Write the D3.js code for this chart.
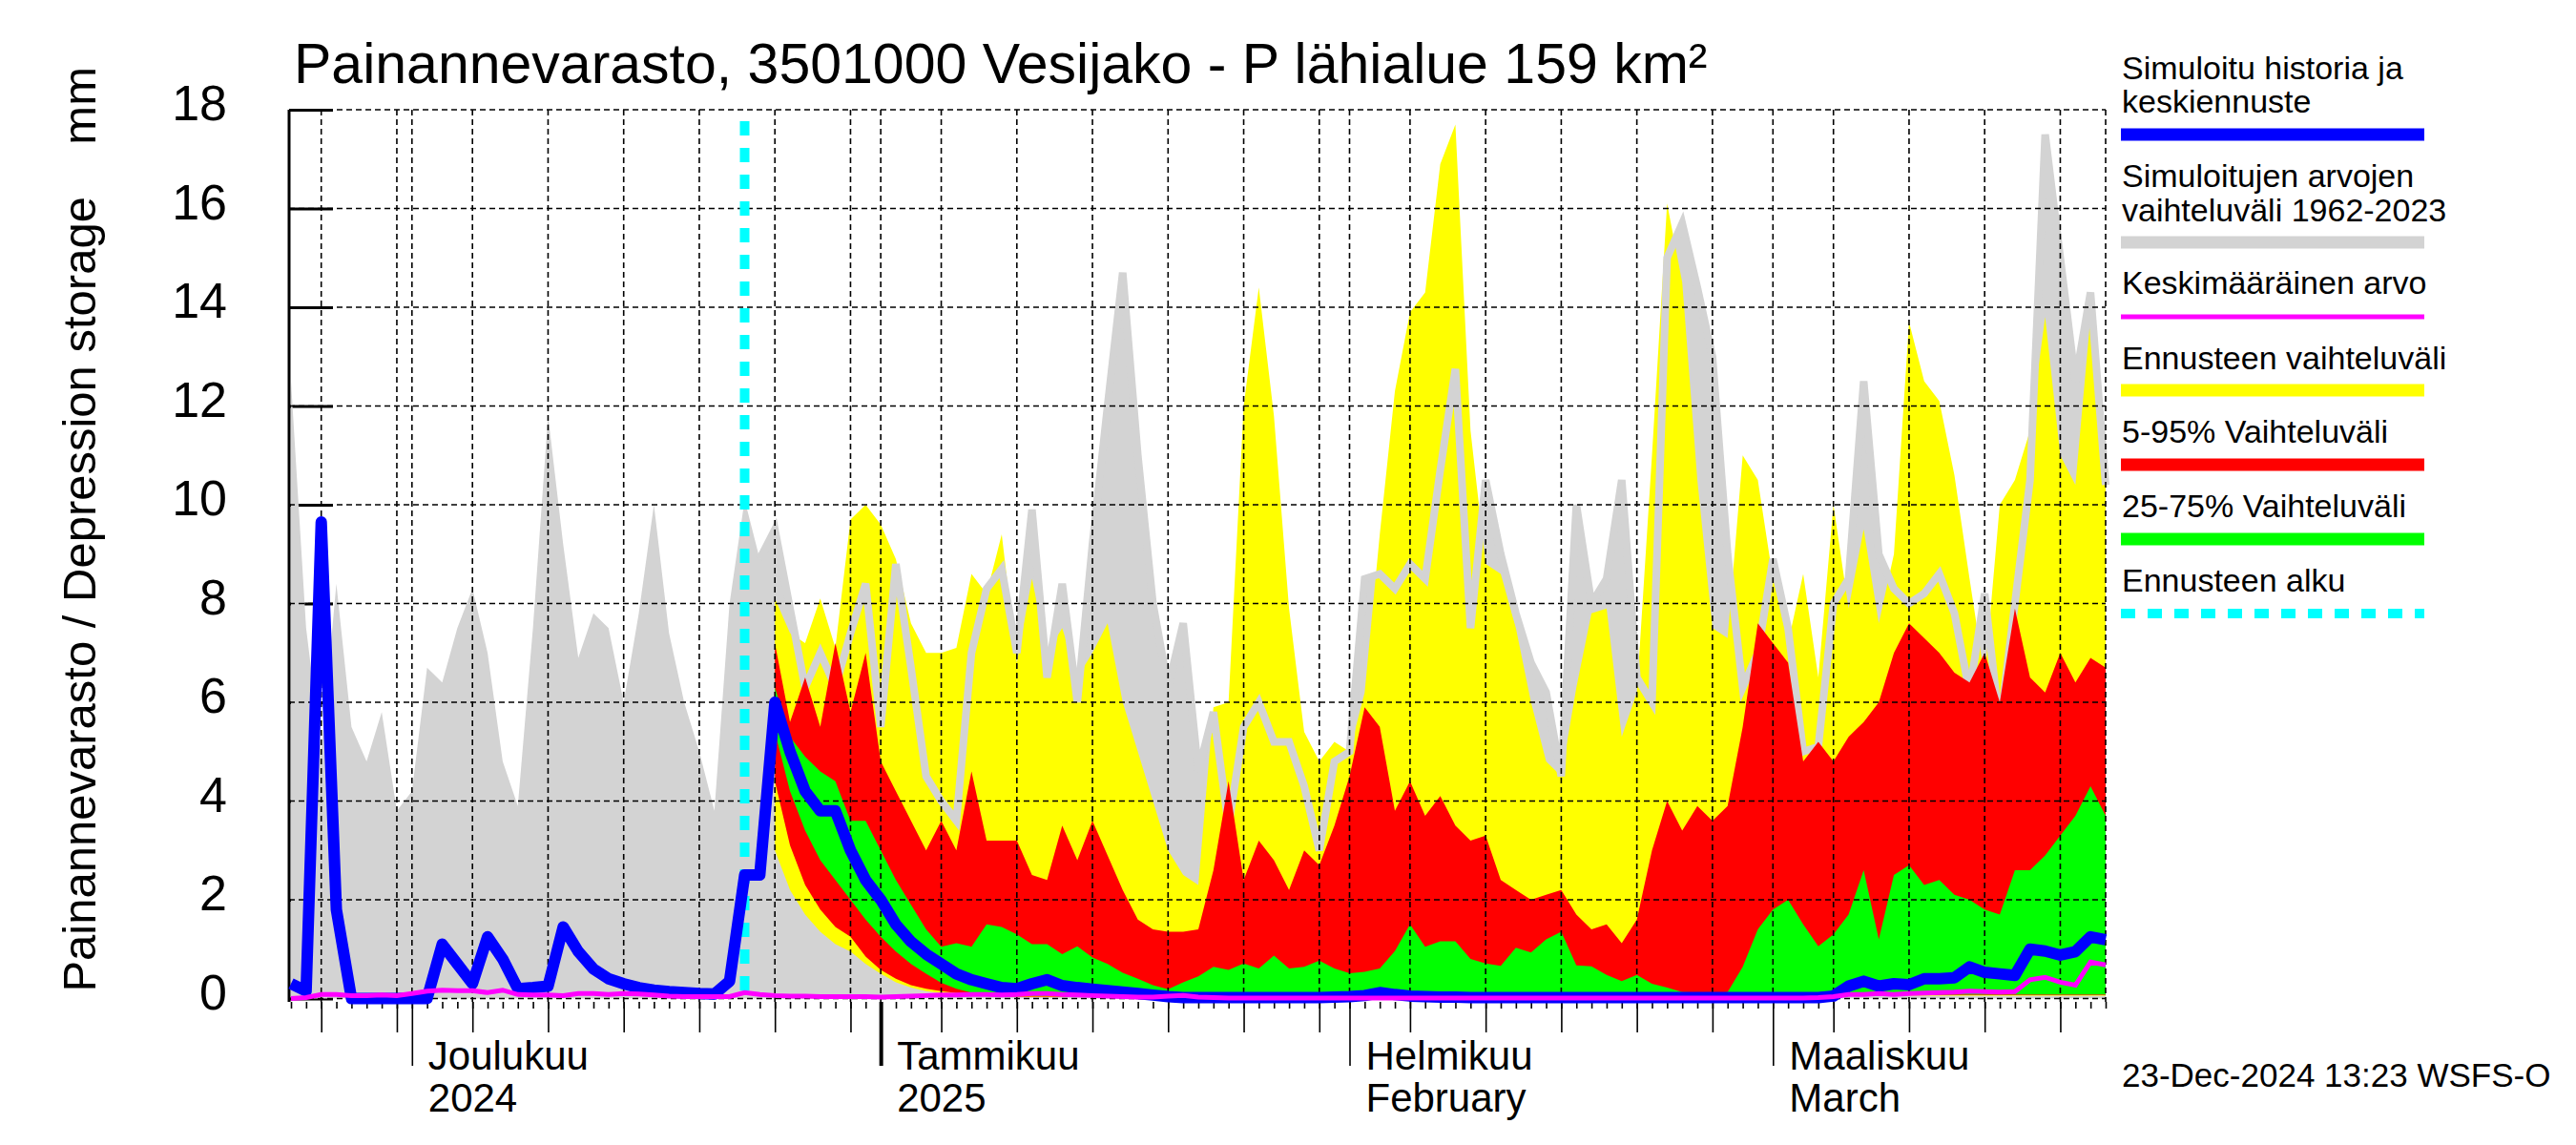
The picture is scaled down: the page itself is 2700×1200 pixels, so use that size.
<!DOCTYPE html>
<html><head><meta charset="utf-8">
<script src="https://cdn.jsdelivr.net/npm/d3@7"></script>
<style>body{margin:0;background:#fff}svg{display:block}text{font-family:"Liberation Sans",Arial,Helvetica,sans-serif;fill:#000}</style>
</head><body><svg id="c" width="2700" height="1200"></svg>
<script>
// ---------- data ----------
const startDay = Date.UTC(2024,10,23);   // first day shown
const endDay   = Date.UTC(2025,2,23);    // last day shown
const forecastStart = Date.UTC(2024,11,23);
const fcOffset = 32;                     // index of first forecast-band day

// simulated history max (grey band upper edge), daily from startDay
const histMax = [12.5,7.5,5.0,8.4,5.5,4.8,5.8,3.8,4.2,6.7,
  6.4,7.5,8.3,7.0,4.8,3.9,7.5,11.8,9.2,6.9,
  7.8,7.5,6.0,7.8,10.0,7.4,6.0,5.0,3.8,8.0,
  10.1,8.9,9.5,7.9,6.3,7.0,6.3,7.4,8.4,5.5,
  8.8,6.7,4.5,4.0,3.6,7.0,8.3,8.7,7.0,9.9,
  6.5,8.4,6.0,9.2,12.0,14.7,11.0,8.0,6.3,7.6,
  4.6,5.8,3.5,5.5,6.0,5.2,5.2,4.3,3.0,4.8,
  5.0,8.5,8.6,8.3,8.8,8.5,10.7,12.75,7.5,10.5,
  9.0,7.8,6.8,6.2,4.5,10.0,8.0,8.5,10.5,6.5,
  6.0,15.0,15.7,14.4,13.0,9.0,6.3,7.0,8.9,7.5,
  5.0,5.1,8.0,8.5,12.5,9.0,8.3,8.0,8.2,8.6,
  7.8,6.2,8.2,5.5,8.0,10.5,17.5,15.0,12.5,14.3,
  10.4];

// simulated history + median forecast (blue)
const simMedian = [0.3,0.15,9.65,1.8,0.0,0.0,0.0,0.0,0.0,0.0,
  1.1,0.7,0.3,1.25,0.8,0.2,0.22,0.25,1.45,0.95,
  0.6,0.4,0.3,0.22,0.17,0.14,0.12,0.1,0.09,0.35,
  2.5,2.5,6.0,5.0,4.2,3.8,3.8,3.0,2.4,2.0,
  1.5,1.15,0.9,0.7,0.5,0.38,0.3,0.22,0.2,0.3,
  0.38,0.26,0.22,0.19,0.16,0.13,0.1,0.07,0.04,0.02,
  0.02,0.02,0.02,0.02,0.02,0.02,0.02,0.02,0.02,0.03,
  0.04,0.06,0.12,0.08,0.05,0.04,0.03,0.03,0.02,0.02,
  0.02,0.02,0.02,0.02,0.02,0.02,0.02,0.02,0.02,0.02,
  0.02,0.02,0.02,0.02,0.02,0.02,0.02,0.02,0.02,0.02,
  0.02,0.02,0.05,0.25,0.35,0.25,0.3,0.28,0.4,0.4,
  0.42,0.64,0.53,0.5,0.47,1.0,0.96,0.88,0.95,1.25,
  1.19];

// long-term mean (magenta)
const meanValue = [0.0,0.02,0.08,0.08,0.06,0.06,0.07,0.06,0.1,0.15,
  0.17,0.16,0.16,0.12,0.17,0.08,0.07,0.07,0.06,0.1,
  0.1,0.08,0.1,0.09,0.07,0.05,0.04,0.04,0.04,0.04,
  0.12,0.08,0.06,0.05,0.05,0.04,0.04,0.04,0.04,0.03,
  0.04,0.05,0.06,0.07,0.07,0.08,0.08,0.07,0.08,0.1,
  0.1,0.08,0.07,0.06,0.05,0.04,0.03,0.03,0.05,0.06,
  0.03,0.02,0.01,0.01,0.01,0.01,0.01,0.01,0.01,0.01,
  0.01,0.01,0.01,0.01,0.01,0.01,0.01,0.01,0.01,0.01,
  0.01,0.01,0.01,0.01,0.01,0.01,0.01,0.01,0.01,0.01,
  0.01,0.01,0.01,0.01,0.01,0.01,0.01,0.01,0.01,0.01,
  0.01,0.02,0.04,0.08,0.08,0.1,0.08,0.1,0.11,0.12,
  0.13,0.15,0.14,0.13,0.14,0.38,0.43,0.33,0.27,0.74,
  0.68];

// forecast bands, daily from startDay + fcOffset
const fcMax = [8.1,7.4,7.2,8.1,7.1,9.7,10.0,9.6,8.9,7.6,
  7.0,7.0,7.1,8.6,8.2,9.4,6.8,8.5,7.0,7.5,
  6.5,7.0,7.6,6.0,5.0,4.0,3.0,2.5,2.3,5.9,
  6.0,12.0,14.4,11.8,7.9,5.4,4.8,5.2,5.0,6.2,
  9.4,12.3,13.9,14.3,16.9,17.7,11.5,8.8,8.6,7.5,
  6.0,4.8,4.5,6.3,7.8,7.9,5.3,6.2,11.0,16.1,
  14.5,10.5,7.5,7.3,11.0,10.5,8.5,7.2,8.6,6.5,
  10.0,7.9,9.5,7.6,9.0,13.7,12.5,12.1,10.6,8.5,
  6.5,10.0,10.5,11.5,13.8,11.0,10.4,13.8,10.5];
const fcMin = [3.0,2.2,1.7,1.35,1.1,0.95,0.7,0.5,0.33,0.22,
  0.15,0.11,0.08,0.06,0.05,0.03,0.03,0.03,0.03,0.03,
  0.03,0.03,0.03,0.03,0.03,0.03,0.03,0.03,0.03,0.03,
  0.03,0.03,0.03,0.03,0.03,0.03,0.03,0.03,0.03,0.03,
  0.03,0.03,0.03,0.03,0.03,0.03,0.03,0.03,0.03,0.03,
  0.03,0.03,0.03,0.03,0.03,0.03,0.03,0.03,0.03,0.03,
  0.03,0.03,0.03,0.03,0.03,0.03,0.03,0.03,0.03,0.03,
  0.06,0.06,0.06,0.06,0.06,0.06,0.06,0.06,0.06,0.06,
  0.06,0.06,0.06,0.06,0.06,0.06,0.06,0.06,0.06];
const p95 = [7.2,5.6,6.5,5.5,7.2,5.8,7.0,4.8,4.2,3.6,
  3.0,3.6,3.0,4.6,3.2,3.2,3.2,2.5,2.4,3.5,
  2.8,3.6,2.9,2.2,1.6,1.4,1.35,1.35,1.4,2.6,
  4.4,2.4,3.2,2.8,2.2,3.0,2.7,3.5,4.5,5.9,
  5.5,3.8,4.4,3.7,4.1,3.5,3.2,3.3,2.4,2.2,
  2.0,2.1,2.2,1.7,1.4,1.5,1.12,1.6,3.0,4.0,
  3.4,3.9,3.6,3.9,5.5,7.6,7.2,6.8,4.8,5.2,
  4.8,5.3,5.6,6.0,7.0,7.6,7.3,7.0,6.6,6.4,
  7.0,6.0,7.9,6.5,6.2,7.0,6.4,6.9,6.7];
const p05 = [4.4,3.1,2.3,1.8,1.45,1.25,0.85,0.58,0.4,0.27,
  0.2,0.15,0.11,0.09,0.07,0.04,0.04,0.04,0.04,0.04,
  0.04,0.04,0.04,0.04,0.04,0.04,0.04,0.04,0.04,0.04,
  0.04,0.04,0.04,0.04,0.04,0.04,0.04,0.04,0.04,0.04,
  0.04,0.04,0.04,0.04,0.04,0.04,0.04,0.04,0.04,0.04,
  0.04,0.04,0.04,0.04,0.04,0.04,0.04,0.04,0.04,0.04,
  0.04,0.04,0.04,0.04,0.04,0.04,0.04,0.04,0.04,0.04,
  0.07,0.07,0.07,0.07,0.07,0.07,0.07,0.07,0.07,0.07,
  0.07,0.07,0.07,0.07,0.07,0.07,0.07,0.07,0.07];
const p75 = [6.3,5.3,4.9,4.6,4.4,3.6,3.6,3.0,2.4,1.9,
  1.4,1.05,1.12,1.05,1.5,1.45,1.3,1.1,1.1,0.9,
  1.06,0.83,0.7,0.52,0.4,0.27,0.19,0.33,0.45,0.64,
  0.58,0.71,0.61,0.87,0.61,0.64,0.77,0.61,0.51,0.54,
  0.61,0.96,1.5,1.05,1.16,1.16,0.8,0.71,0.66,1.03,
  0.93,1.2,1.35,0.67,0.65,0.48,0.35,0.48,0.3,0.22,
  0.13,0.12,0.11,0.13,0.64,1.4,1.8,2.0,1.5,1.06,
  1.3,1.7,2.6,1.2,2.5,2.7,2.3,2.4,2.1,2.0,
  1.8,1.7,2.6,2.6,2.9,3.3,3.7,4.3,3.7];
const p25 = [5.4,4.2,3.4,2.8,2.4,2.0,1.6,1.25,0.95,0.7,
  0.5,0.32,0.2,0.12,0.08,0.05,0.05,0.05,0.05,0.05,
  0.05,0.05,0.05,0.05,0.05,0.05,0.05,0.05,0.05,0.05,
  0.05,0.05,0.05,0.05,0.05,0.05,0.05,0.05,0.05,0.05,
  0.05,0.05,0.05,0.05,0.05,0.05,0.05,0.05,0.05,0.05,
  0.05,0.05,0.05,0.05,0.05,0.05,0.05,0.05,0.05,0.05,
  0.05,0.05,0.05,0.05,0.05,0.05,0.05,0.05,0.05,0.05,
  0.08,0.08,0.08,0.08,0.08,0.08,0.08,0.08,0.08,0.08,
  0.08,0.08,0.08,0.08,0.08,0.08,0.08,0.08,0.08];

const yTicks = [0,2,4,6,8,10,12,14,16,18];
const monthLabels = [
  {date: Date.UTC(2024,11,1), l1: "Joulukuu", l2: "2024"},
  {date: Date.UTC(2025,0,1),  l1: "Tammikuu", l2: "2025"},
  {date: Date.UTC(2025,1,1),  l1: "Helmikuu", l2: "February"},
  {date: Date.UTC(2025,2,1),  l1: "Maaliskuu", l2: "March"}
];
const gridDays = [1,5,10,15,20,25,30];
const midTickDays = [5,10,15,20,25,30];
const titleText = "Painannevarasto, 3501000 Vesijako - P lähialue 159 km²";
const yLabelText = "Painannevarasto / Depression storage    mm";
const footerText = "23-Dec-2024 13:23 WSFS-O";
const legendItems = [
  {lines: ["Simuloitu historia ja","keskiennuste"], color:"#0000ff", w:13},
  {lines: ["Simuloitujen arvojen","vaihteluväli 1962-2023"], color:"#d3d3d3", w:13},
  {lines: ["Keskimääräinen arvo"], color:"#ff00ff", w:5},
  {lines: ["Ennusteen vaihteluväli"], color:"#ffff00", w:13},
  {lines: ["5-95% Vaihteluväli"], color:"#ff0000", w:13},
  {lines: ["25-75% Vaihteluväli"], color:"#00ff00", w:13},
  {lines: ["Ennusteen alku"], color:"#00ffff", w:10, dash:"15,13"}
];

// ---------- chart ----------
const svg = d3.select("#c");
svg.append("rect").attr("width",2700).attr("height",1200).attr("fill","#fff");

const days = d3.utcDay.range(new Date(startDay), d3.utcDay.offset(new Date(endDay),1));
const fcDays = days.slice(fcOffset);
const x = d3.scaleUtc().domain([new Date(startDay), new Date(endDay)]).range([305, 2207]);
const y = d3.scaleLinear().domain([-0.068, 18]).range([1050, 115]);
const X0 = 303, X1 = 2207, Ytop = 115, Ybot = 1050;

// y axis (drawn first, covered by data)
const yAxis = d3.axisLeft(y).tickValues(yTicks).tickSizeInner(-46).tickSizeOuter(0).tickPadding(65).tickFormat(d3.format("d"));
const gy = svg.append("g").attr("transform",`translate(${X0},0)`).call(yAxis);
gy.select(".domain").remove();
gy.selectAll(".tick line").attr("stroke","#000").attr("stroke-width",3);
gy.selectAll(".tick text").attr("font-size",52).attr("dy","0.21em").attr("font-family",'"Liberation Sans",Arial,sans-serif');
svg.append("line").attr("x1",X0).attr("x2",X0).attr("y1",Ytop).attr("y2",Ybot).attr("stroke","#000").attr("stroke-width",3);

// grey history band
svg.append("path").datum(histMax)
  .attr("d", d3.area().x((d,i)=>x(days[i])).y0(y(0)).y1(d=>y(d)))
  .attr("fill","#d3d3d3");

const fc = fcDays.map((d,k)=>({d, max:fcMax[k], min:fcMin[k], p95:p95[k], p05:p05[k], p75:p75[k], p25:p25[k]}));
const band = (lo,hi)=>d3.area().x(o=>x(o.d)).y0(o=>y(o[lo])).y1(o=>y(o[hi]));
svg.append("path").datum(fc).attr("d",band("min","max")).attr("fill","#ffff00");
// history max line over forecast range
const hm = histMax.map((v,i)=>({d:days[i], v})).slice(fcOffset-1);
svg.append("path").datum(hm)
  .attr("d", d3.line().x(o=>x(o.d)).y(o=>y(o.v)))
  .attr("fill","none").attr("stroke","#d3d3d3").attr("stroke-width",8);
svg.append("path").datum(fc).attr("d",band("p05","p95")).attr("fill","#ff0000");
svg.append("path").datum(fc).attr("d",band("p25","p75")).attr("fill","#00ff00");

// grid
const gGrid = svg.append("g").attr("stroke","#000").attr("stroke-width",1.6).attr("stroke-dasharray","6,4");
yTicks.forEach(v=>gGrid.append("line").attr("x1",X0).attr("x2",X1).attr("y1",y(v)).attr("y2",y(v)));
days.filter(d=>gridDays.includes(d.getUTCDate())).forEach(d=>
  gGrid.append("line").attr("x1",x(d)).attr("x2",x(d)).attr("y1",Ytop).attr("y2",Ybot));
gGrid.append("line").attr("x1",X1).attr("x2",X1).attr("y1",Ytop).attr("y2",Ybot);

// x ticks
function tickAxis(values, size, width){
  const g = svg.append("g").attr("transform",`translate(0,${Ybot})`)
    .call(d3.axisBottom(x).tickValues(values).tickSize(size).tickFormat(""));
  g.select(".domain").remove();
  g.selectAll(".tick line").attr("stroke","#000").attr("stroke-width",width);
  return g;
}
tickAxis(days, 7, 1.6);
tickAxis(days.filter(d=>midTickDays.includes(d.getUTCDate())), 32, 1.6);
tickAxis(days.filter(d=>d.getUTCDate()===1 && d.getUTCMonth()!==0), 67, 1.6);
tickAxis(days.filter(d=>d.getUTCDate()===1 && d.getUTCMonth()===0), 67, 4);
monthLabels.forEach(m=>{
  const t = svg.append("text").attr("x",x(new Date(m.date))+17).attr("font-size",42);
  t.append("tspan").attr("x",x(new Date(m.date))+17).attr("y",1121).text(m.l1);
  t.append("tspan").attr("x",x(new Date(m.date))+17).attr("y",1165).text(m.l2);
});

// forecast start
svg.append("line").attr("x1",x(new Date(forecastStart))).attr("x2",x(new Date(forecastStart)))
  .attr("y1",127).attr("y2",Ybot).attr("stroke","#00ffff").attr("stroke-width",10).attr("stroke-dasharray","15,13");

// blue & magenta lines
svg.append("path").datum(simMedian)
  .attr("d", d3.line().x((d,i)=>x(days[i])).y(d=>y(d)))
  .attr("fill","none").attr("stroke","#0000ff").attr("stroke-width",12).attr("stroke-linejoin","round");
svg.append("path").datum(meanValue)
  .attr("d", d3.line().x((d,i)=>x(days[i])).y(d=>y(d)))
  .attr("fill","none").attr("stroke","#ff00ff").attr("stroke-width",5);

// texts
svg.append("text").attr("x",308).attr("y",87).attr("font-size",59).text(titleText);
svg.append("text").attr("transform","translate(100,70) rotate(-90)").attr("text-anchor","end")
  .attr("font-size",49).style("white-space","pre").text(yLabelText);
svg.append("text").attr("x",2224).attr("y",1139).attr("font-size",35).text(footerText);

// legend
const legY = [[83,118,141],[196,232,254],[308,332],[387,409],[464,487],[542,565],[620,643]];
legendItems.forEach((it,k)=>{
  const ys = legY[k];
  it.lines.forEach((s,j)=>svg.append("text").attr("x",2224).attr("y",ys[j]).attr("font-size",34).text(s));
  const ly = ys[ys.length-1];
  const ln = svg.append("line").attr("x1",2223).attr("x2",2541).attr("y1",ly).attr("y2",ly)
    .attr("stroke",it.color).attr("stroke-width",it.w);
  if(it.dash) ln.attr("stroke-dasharray",it.dash);
});
</script></body></html>
